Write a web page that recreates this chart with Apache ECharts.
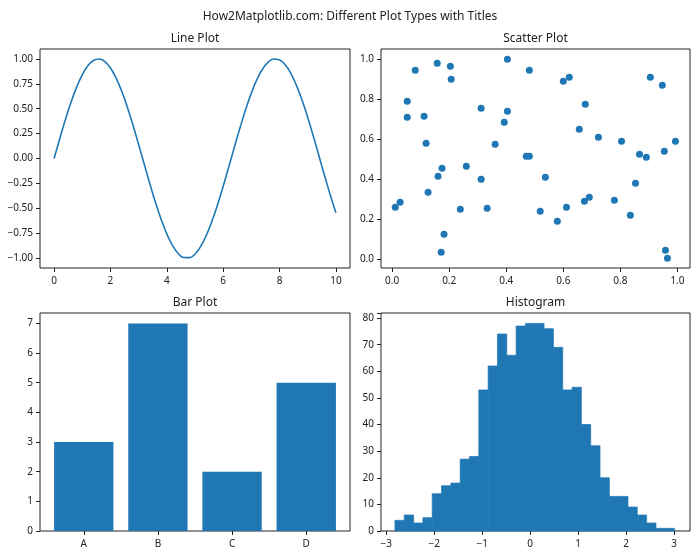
<!DOCTYPE html>
<html><head><meta charset="utf-8">
<script src="https://cdn.jsdelivr.net/npm/echarts@6/dist/echarts.min.js"></script>
<style>html,body{margin:0;padding:0;background:#fff}#c{width:700px;height:560px}</style>
</head><body><div id="c"></div>
<script>
// ---- Line plot (y = sin x) ----
const lineX = [0,0.2,0.4,0.6,0.8,1,1.2,1.4,1.6,1.8,2,2.2,2.4,2.6,2.8,3,3.2,3.4,3.6,3.8,4,4.2,4.4,4.6,4.8,5,5.2,5.4,5.6,5.8,6,6.2,6.4,6.6,6.8,7,7.2,7.4,7.6,7.8,8,8.2,8.4,8.6,8.8,9,9.2,9.4,9.6,9.8,10];
const lineY = [0.000,0.199,0.389,0.565,0.717,0.841,0.932,0.985,1.000,0.974,0.909,0.808,0.675,0.516,0.335,0.141,-0.058,-0.256,-0.443,-0.612,-0.757,-0.872,-0.952,-0.994,-0.996,-0.959,-0.883,-0.773,-0.631,-0.465,-0.279,-0.083,0.117,0.312,0.494,0.657,0.794,0.899,0.968,0.999,0.989,0.941,0.855,0.734,0.585,0.412,0.223,0.025,-0.174,-0.366,-0.544];
const lineXTicks = [0,2,4,6,8,10];
const lineYTicks = [-1,-0.75,-0.5,-0.25,0,0.25,0.5,0.75,1];

// ---- Scatter plot ----
const scatterX = [0.011,0.028,0.053,0.053,0.081,0.112,0.119,0.126,0.158,0.161,0.175,0.172,0.182,0.204,0.207,0.239,0.260,0.312,0.312,0.333,0.361,0.393,0.404,0.404,0.470,0.481,0.481,0.519,0.537,0.579,0.600,0.621,0.611,0.656,0.677,0.674,0.691,0.723,0.779,0.804,0.835,0.853,0.867,0.891,0.905,0.947,0.954,0.958,0.965,0.993];
const scatterY = [0.260,0.285,0.790,0.710,0.945,0.715,0.580,0.335,0.980,0.415,0.455,0.035,0.125,0.965,0.900,0.250,0.465,0.755,0.400,0.255,0.575,0.685,1.000,0.740,0.515,0.515,0.945,0.240,0.410,0.190,0.890,0.910,0.260,0.650,0.775,0.290,0.310,0.610,0.295,0.590,0.220,0.380,0.525,0.510,0.910,0.870,0.540,0.045,0.005,0.590];
const scatterTicks = [0,0.2,0.4,0.6,0.8,1.0];

// ---- Bar plot ----
const barCategories = ['A','B','C','D'];
const barValues = [3,7,2,5];
const barYTicks = [0,1,2,3,4,5,6,7];

// ---- Histogram ----
const histStart = -2.82;
const histBinWidth = 0.1943;
const histCounts = [4,6,3,5,14,17,18,27,28,53,62,74,66,77,78,78,76,69,53,54,40,32,20,13,13,9,6,3,1,1];
const histXTicks = [-3,-2,-1,0,1,2,3];

const C = '#1f77b4', INK = '#222';
const FONT = 'Noto Sans';
const minus = s => String(s).replace('-', '\u2212');

function axisBase(extra){
  return Object.assign({
    axisLine:{show:false, onZero:false},
    axisTick:{show:true,length:4,lineStyle:{color:INK}},
    axisLabel:{color:INK,fontSize:10,fontFamily:FONT},
    splitLine:{show:false}
  }, extra);
}
function withTicks(ax, vals, fmt){
  ax.axisTick.customValues = vals;
  ax.axisLabel.customValues = vals;
  ax.axisLabel.formatter = fmt;
  return ax;
}

const grids = [
  {left:40, top:49, width:310, height:219},
  {left:381, top:49, width:309, height:219},
  {left:40, top:313, width:310, height:218},
  {left:381, top:313, width:309, height:218}
].map(g => Object.assign(g, {show:true, borderColor:INK, borderWidth:1, backgroundColor:'transparent'}));

const xAxes = [
  withTicks(axisBase({type:'value', gridIndex:0, min:-0.5, max:10.5}), lineXTicks, v => String(v)),
  withTicks(axisBase({type:'value', gridIndex:1, min:-0.039, max:1.044}), scatterTicks, v => v.toFixed(1)),
  withTicks(axisBase({type:'value', gridIndex:2, min:-0.59, max:3.59}), [0,1,2,3], v => barCategories[Math.round(v)]),
  withTicks(axisBase({type:'value', gridIndex:3, min:-3.11, max:3.33}), histXTicks, v => minus(v))
];
const yAxes = [
  withTicks(axisBase({type:'value', gridIndex:0, min:-1.1, max:1.1}), lineYTicks, v => minus(v.toFixed(2))),
  withTicks(axisBase({type:'value', gridIndex:1, min:-0.0435, max:1.0515}), scatterTicks, v => v.toFixed(1)),
  withTicks(axisBase({type:'value', gridIndex:2, min:0, max:7.35}), barYTicks, v => String(v)),
  axisBase({type:'value', gridIndex:3, min:0, max:81.9, interval:10})
];
xAxes.forEach(a => a.axisLabel.margin = 8);
yAxes.forEach(a => a.axisLabel.margin = 7);
yAxes[3].axisLabel.formatter = v => (v > 80 ? '' : String(v));

const histData = histCounts.map((c,i) => [histStart + i*histBinWidth, histStart + (i+1)*histBinWidth, c]);
const barData = barValues.map((v,i) => [i, v]);

const titleStyle = {fontSize:12, fontWeight:'normal', color:INK, fontFamily:FONT};
const option = {
  animation:false,
  backgroundColor:'#fff',
  title:[
    {text:'How2Matplotlib.com: Different Plot Types with Titles', left:350, top:11, textAlign:'center', padding:0, textStyle:titleStyle},
    {text:'Line Plot', left:195, top:33, textAlign:'center', padding:0, textStyle:titleStyle},
    {text:'Scatter Plot', left:535.5, top:33, textAlign:'center', padding:0, textStyle:titleStyle},
    {text:'Bar Plot', left:195, top:297, textAlign:'center', padding:0, textStyle:titleStyle},
    {text:'Histogram', left:535.5, top:297, textAlign:'center', padding:0, textStyle:titleStyle}
  ],
  grid:grids,
  xAxis:xAxes,
  yAxis:yAxes,
  series:[
    {type:'line', xAxisIndex:0, yAxisIndex:0, data:lineX.map((x,i)=>[x,lineY[i]]), smooth:0.5, showSymbol:false, lineStyle:{color:C,width:1.6}},
    {type:'scatter', xAxisIndex:1, yAxisIndex:1, data:scatterX.map((x,i)=>[x,scatterY[i]]), symbolSize:7, itemStyle:{color:C,opacity:1}},
    {type:'custom', xAxisIndex:2, yAxisIndex:2, data:barData,
      renderItem:(p,api)=>{const i=api.value(0), v=api.value(1); const a=api.coord([i-0.4,v]), b=api.coord([i+0.4,0]);
        return {type:'rect', shape:{x:a[0],y:a[1],width:b[0]-a[0],height:b[1]-a[1]}, style:{fill:C}};}},
    {type:'custom', xAxisIndex:3, yAxisIndex:3, data:histData,
      renderItem:(p,api)=>{const a=api.coord([api.value(0),api.value(2)]), b=api.coord([api.value(1),0]);
        return {type:'rect', shape:{x:a[0],y:a[1],width:b[0]-a[0],height:b[1]-a[1]}, style:{fill:C, stroke:C, lineWidth:0.7}};}}
  ]
};
echarts.init(document.getElementById('c')).setOption(option);
</script>
</body></html>
